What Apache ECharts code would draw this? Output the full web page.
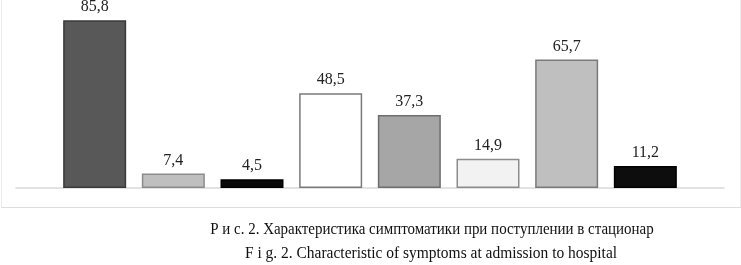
<!DOCTYPE html>
<html>
<head>
<meta charset="utf-8">
<script src="https://cdn.jsdelivr.net/npm/echarts@6/dist/echarts.min.js"></script>
<style>
  html, body { margin: 0; padding: 0; background: #fff; }
  #frame {
    position: absolute; left: 1px; top: 0; width: 738px; height: 207px;
    border-left: 1px solid #ececec; border-right: 1px solid #ececec; border-bottom: 1px solid #dcdcdc;
  }
  #chart { position: absolute; left: 0; top: 0; width: 741px; height: 265px; }
</style>
</head>
<body>
<div id="frame"></div>
<div id="chart"></div>
<script>
// empty slots at both ends so the axis line runs past the bars
const categories = ['', 'a', 'b', 'c', 'd', 'e', 'f', 'g', 'h', '']
const values = ['-', 85.8, 7.4, 4.5, 48.5, 37.3, 14.9, 65.7, 11.2, '-']
const fills = ['#fff', '#585858', '#bfbfbf', '#0a0a0a', '#ffffff', '#a6a6a6', '#f2f2f2', '#bfbfbf', '#0d0d0d', '#fff']
const borders = ['#fff', '#3a3a3a', '#8c8c8c', '#000000', '#7a7a7a', '#6e6e6e', '#8c8c8c', '#7a7a7a', '#000000', '#fff']
const captionRu = 'Р и с. 2. Характеристика симптоматики при поступлении в стационар'
const captionEn = 'F i g. 2. Characteristic of symptoms at admission to hospital'

const chart = echarts.init(document.getElementById('chart'))
chart.setOption({
  animation: false,
  graphic: [
    {
      // the printed caption is a condensed serif, squeeze it horizontally
      type: 'text', x: 432, y: 230, scaleX: 0.88,
      style: { text: captionRu, font: '17px "Liberation Serif"', fill: '#111', align: 'center', verticalAlign: 'middle' }
    },
    {
      type: 'text', x: 431, y: 254, scaleX: 0.91,
      style: { text: captionEn, font: '17px "Liberation Serif"', fill: '#111', align: 'center', verticalAlign: 'middle' }
    }
  ],
  grid: { left: 16, right: 17, top: 12, bottom: 77 },
  xAxis: {
    type: 'category',
    data: categories,
    boundaryGap: false,
    axisLine: { lineStyle: { color: '#d9d9d9', width: 1.5 } },
    axisTick: { show: false },
    axisLabel: { show: false },
    splitLine: { show: false }
  },
  yAxis: {
    type: 'value',
    min: 0,
    max: 90,
    show: false
  },
  series: [{
    type: 'bar',
    barWidth: 63,
    data: values.map((v, i) => ({
      value: v,
      itemStyle: { color: fills[i], borderColor: borders[i], borderWidth: 1.5 }
    })),
    label: {
      show: true,
      position: 'top',
      distance: 5,
      fontFamily: 'Liberation Serif',
      fontSize: 16,
      color: '#222',
      formatter: p => String(p.value).replace('.', ',')
    }
  }]
})
</script>
</body>
</html>
